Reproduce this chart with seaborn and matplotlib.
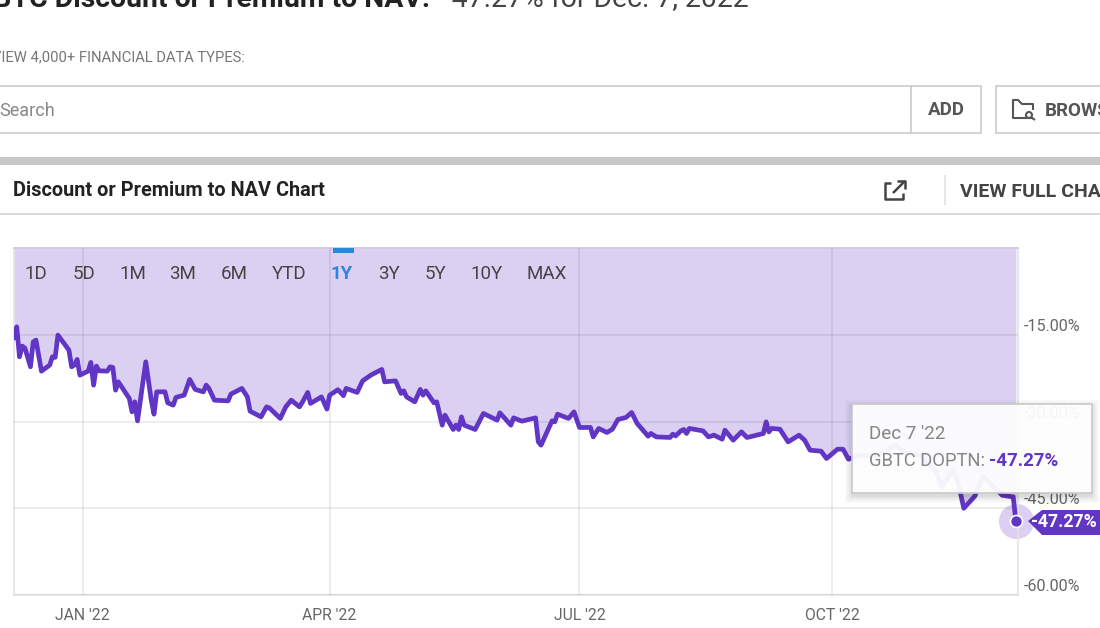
import matplotlib
matplotlib.use('Agg')
import logging
import numpy as np
import pandas as pd
import matplotlib.pyplot as plt
import matplotlib.patches as mpatches
import seaborn as sns
from matplotlib.transforms import ScaledTranslation

logging.getLogger('matplotlib.font_manager').setLevel(logging.ERROR)

# ========== data ==========
dates = [
    '2021-12-07', '2021-12-08', '2021-12-09', '2021-12-10', '2021-12-11', '2021-12-13', '2021-12-14', '2021-12-15',
    '2021-12-17', '2021-12-20', '2021-12-21', '2021-12-22', '2021-12-23', '2021-12-27', '2021-12-28', '2021-12-29',
    '2021-12-30', '2021-12-31', '2022-01-03', '2022-01-04', '2022-01-05', '2022-01-06', '2022-01-07', '2022-01-10',
    '2022-01-11', '2022-01-12', '2022-01-13', '2022-01-14', '2022-01-18', '2022-01-19', '2022-01-20', '2022-01-21',
    '2022-01-24', '2022-01-26', '2022-01-27', '2022-01-28', '2022-01-31', '2022-02-01', '2022-02-03', '2022-02-04',
    '2022-02-07', '2022-02-09', '2022-02-11', '2022-02-14', '2022-02-15', '2022-02-16', '2022-02-18', '2022-02-23',
    '2022-02-24', '2022-02-28', '2022-03-02', '2022-03-03', '2022-03-07', '2022-03-09', '2022-03-10', '2022-03-14',
    '2022-03-16', '2022-03-18', '2022-03-21', '2022-03-22', '2022-03-24', '2022-03-25', '2022-03-29', '2022-03-31',
    '2022-04-01', '2022-04-04', '2022-04-06', '2022-04-07', '2022-04-11', '2022-04-13', '2022-04-16', '2022-04-20',
    '2022-04-21', '2022-04-25', '2022-04-27', '2022-04-28', '2022-04-29', '2022-05-02', '2022-05-04', '2022-05-05',
    '2022-05-06', '2022-05-09', '2022-05-10', '2022-05-12', '2022-05-13', '2022-05-16', '2022-05-17', '2022-05-18',
    '2022-05-19', '2022-05-20', '2022-05-24', '2022-05-27', '2022-06-01', '2022-06-02', '2022-06-06', '2022-06-07',
    '2022-06-10', '2022-06-15', '2022-06-16', '2022-06-17', '2022-06-21', '2022-06-22', '2022-06-23', '2022-06-27',
    '2022-06-29', '2022-07-01', '2022-07-05', '2022-07-06', '2022-07-08', '2022-07-11', '2022-07-13', '2022-07-15',
    '2022-07-18', '2022-07-20', '2022-07-22', '2022-07-26', '2022-07-27', '2022-07-29', '2022-08-03', '2022-08-04',
    '2022-08-05', '2022-08-07', '2022-08-08', '2022-08-09', '2022-08-10', '2022-08-15', '2022-08-17', '2022-08-19',
    '2022-08-22', '2022-08-23', '2022-08-26', '2022-08-29', '2022-08-31', '2022-09-01', '2022-09-06', '2022-09-07',
    '2022-09-08', '2022-09-09', '2022-09-12', '2022-09-15', '2022-09-19', '2022-09-21', '2022-09-23', '2022-09-27',
    '2022-09-29', '2022-10-03', '2022-10-05', '2022-10-07', '2022-10-11', '2022-10-18', '2022-10-24', '2022-10-28',
    '2022-11-02', '2022-11-08', '2022-11-10', '2022-11-14', '2022-11-16', '2022-11-18', '2022-11-22', '2022-11-25',
    '2022-11-29', '2022-12-02', '2022-12-06', '2022-12-07',
]
discount = [
    -15.58, -13.62, -18.81, -16.96, -17.31, -20.54, -16.22, -15.92,
    -21.29, -20.25, -18.81, -18.92, -15.06, -17.65, -20.54, -20.25,
    -19.26, -21.98, -21.29, -19.78, -23.71, -20.42, -21.24, -21.29,
    -20.54, -20.65, -24.58, -23.14, -26.01, -28.33, -26.60, -29.89,
    -19.68, -26.31, -28.73, -24.87, -24.87, -26.77, -27.17, -25.84,
    -25.44, -22.72, -24.45, -24.87, -23.71, -24.28, -26.31, -26.43,
    -25.27, -24.28, -25.74, -28.21, -29.20, -27.47, -27.64, -29.47,
    -27.47, -26.31, -27.47, -26.71, -24.97, -26.88, -25.74, -27.86,
    -25.44, -24.50, -25.53, -24.28, -24.97, -22.97, -21.98, -20.99,
    -23.14, -22.97, -25.15, -24.70, -25.74, -26.60, -24.45, -25.44,
    -24.70, -26.77, -26.60, -30.63, -28.90, -31.38, -30.63, -31.38,
    -29.20, -30.63, -31.38, -28.61, -29.77, -28.50, -30.63, -29.37,
    -29.94, -29.37, -33.52, -34.09, -29.89, -30.06, -28.73, -29.47,
    -28.33, -31.03, -31.03, -32.66, -31.20, -31.90, -31.33, -29.65,
    -29.30, -28.44, -30.34, -32.54, -32.07, -32.66, -32.76, -32.19,
    -32.49, -31.59, -31.38, -32.07, -31.20, -31.62, -32.66, -32.36,
    -33.06, -31.50, -33.23, -31.79, -32.76, -32.66, -32.07, -30.06,
    -31.79, -31.20, -31.33, -33.52, -32.36, -33.23, -34.96, -35.13,
    -36.40, -34.79, -34.79, -36.52, -35.83, -35.83, -34.10, -35.48,
    -35.83, -38.72, -41.36, -38.42, -40.67, -45.00, -42.92, -39.46,
    -41.31, -42.75, -43.04, -47.27,
]
x_ticks = ['2022-01-01', '2022-04-01', '2022-07-01', '2022-10-01']
x_labels = ["JAN '22", "APR '22", "JUL '22", "OCT '22"]
y_ticks = [-15, -30, -45, -60]
y_labels = ['-15.00%', '-30.00%', '-45.00%', '-60.00%']
range_buttons = ['1D', '5D', '1M', '3M', '6M', 'YTD', '1Y', '3Y', '5Y', '10Y', 'MAX']
range_x = [36, 84, 133, 183, 234, 289, 342, 389, 435, 487, 547]

PURPLE = '#6236C5'
FILL = '#DBD0F1'

sns.set_theme(style='white')
plt.rcParams['font.family'] = ['Roboto', 'DejaVu Sans']

df = pd.DataFrame({'date': pd.to_datetime(dates), 'discount': discount})

fig = plt.figure(figsize=(11, 6.28), dpi=100, facecolor='white')

# ========== main chart ==========
ax = fig.add_axes([14 / 1100, 1 - 595 / 628, 1004 / 1100, 347 / 628])
ax.fill_between(df['date'], df['discount'], 0, color=FILL, lw=0, zorder=1)
sns.lineplot(data=df, x='date', y='discount', color=PURPLE, linewidth=3.4, estimator=None, ax=ax, zorder=3,
             solid_joinstyle='round')
ax.scatter(df['date'].iloc[-1], discount[-1], s=640, color=FILL, lw=0, zorder=2, clip_on=False)
ax.scatter(df['date'].iloc[-1], discount[-1], s=75, color=PURPLE, edgecolor='white', lw=1.2, zorder=4, clip_on=False)

ax.set_xlim(pd.Timestamp('2021-12-07 00:00'), pd.Timestamp('2022-12-07 18:00'))
ax.set_ylim(-60, 0)
ax.set_xlabel('')
ax.set_ylabel('')
ax.set_xticks(pd.to_datetime(x_ticks))
ax.set_xticklabels(x_labels, fontsize=11.3, color='#666666')
ax.yaxis.tick_right()
ax.set_yticks(y_ticks)
ax.set_yticklabels(y_labels, fontsize=11.6, color='#666666')
ax.tick_params(axis='both', length=0)
ax.tick_params(axis='x', pad=9)
ax.tick_params(axis='y', pad=4)
for lab in ax.get_yticklabels():
    lab.set_transform(lab.get_transform() + ScaledTranslation(0, 10 / 100, fig.dpi_scale_trans))
ax.grid(True, color='black', alpha=0.09, lw=1.1)
ax.set_axisbelow(False)
for s in ['left', 'right', 'bottom']:
    ax.spines[s].set_color('#E4E4E4')
    ax.spines[s].set_linewidth(1.2)
ax.spines['top'].set_color('#CFC3E6')
ax.spines['top'].set_linewidth(1.2)

# ========== page furniture in pixel coordinates ==========
ui = fig.add_axes([0, 0, 1, 1], zorder=10)
ui.set_xlim(0, 1100)
ui.set_ylim(628, 0)
ui.axis('off')
ui.patch.set_alpha(0)

def box(x0, y0, x1, y1, **kw):
    ui.add_patch(mpatches.Rectangle((x0, y0), x1 - x0, y1 - y0, **kw))

def line(xs, ys, color='#444444', lw=1.8):
    ui.plot(xs, ys, color=color, lw=lw, solid_capstyle='butt', clip_on=True)

# page title, cut off by the top of the crop
ui.text(430, 7, 'GBTC Discount or Premium to NAV:', fontsize=20.4, fontweight='bold', color='#222222', ha='right', va='baseline')
ui.text(444, 7, '-47.27% for Dec. 7, 2022', fontsize=20.4, color='#444444', va='baseline')
ui.text(245, 57, 'VIEW 4,000+ FINANCIAL DATA TYPES:', fontsize=10.6, color='#777777', ha='right', va='center')

# search row
box(-5, 86, 911, 133, fc='white', ec='#CCCCCC', lw=1.2)
box(911, 86, 981, 133, fc='white', ec='#CCCCCC', lw=1.2)
box(996, 86, 1110, 133, fc='white', ec='#CCCCCC', lw=1.2)
ui.text(-1, 110.5, 'Search', fontsize=13, color='#888888', va='center')
ui.text(946, 110, 'ADD', fontsize=13.5, fontweight='bold', color='#555555', ha='center', va='center')
ui.text(1045, 111, 'BROWSE', fontsize=13.5, fontweight='bold', color='#555555', va='center')
line([1033, 1013, 1013, 1018, 1022, 1033, 1033], [118, 118, 100, 100, 104, 104, 110], '#555555', 1.5)
ui.add_patch(mpatches.Circle((1029, 115), 3, fc='white', ec='#555555', lw=1.5))
line([1031.5, 1035], [117.5, 120], '#555555', 1.5)

# chart header
box(-5, 157, 1110, 165, fc='#C8C8C8', ec='none')
line([-5, 1110], [214, 214], '#D2D2D2', 1.2)
ui.text(13, 191, 'Discount or Premium to NAV Chart', fontsize=14.3, fontweight='bold', color='#222222', va='center')
line([891, 885, 885, 903, 903], [183, 183, 199, 199, 193], '#444444', 1.8)
line([893, 905], [193, 181], '#444444', 1.8)
line([897, 905, 905], [181, 181, 189], '#444444', 1.8)
line([945, 945], [175, 205], '#E2E2E2', 1.2)
ui.text(960, 192, 'VIEW FULL CHART', fontsize=14, fontweight='bold', color='#444444', va='center')

# range buttons
for lab, bx in zip(range_buttons, range_x):
    active = lab == '1Y'
    ui.text(bx, 274, lab, fontsize=13.5, ha='center', va='center',
            color='#2E86DE' if active else '#444444', fontweight='bold' if active else 'normal')
box(333, 248, 354, 253, fc='#2E86DE', ec='none')

# value flag at the end of the line
ui.add_patch(mpatches.Polygon([(1028, 521), (1042, 510), (1101, 510), (1101, 535), (1042, 535)], fc=PURPLE, ec='none'))
ui.text(1031, 522, '-47.27%', fontsize=12.8, fontweight='bold', color='white', va='center')

# tooltip with soft shadow
for grow, a in zip([7, 5, 3, 1], [0.025, 0.03, 0.04, 0.05]):
    box(852 - grow, 404 - grow + 3, 1092 + grow, 493 + grow + 3, fc='black', ec='none', alpha=a)
box(852, 404, 1092, 493, fc=(1, 1, 1, 0.95), ec='#C9C9C9', lw=1.2)
ui.text(869, 434, "Dec 7 '22", fontsize=13.5, color='#858585', va='center')
ui.text(869, 461, 'GBTC DOPTN:', fontsize=13.2, color='#858585', va='center')
ui.text(989, 461, '-47.27%', fontsize=13.5, fontweight='bold', color=PURPLE, va='center')

fig.savefig('out.png', dpi=100)
